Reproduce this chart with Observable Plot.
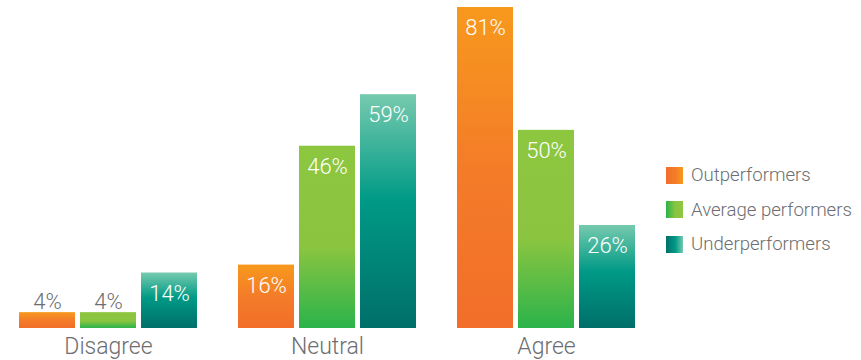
<!DOCTYPE html>
<html>
<head>
<meta charset="utf-8">
<script src="https://cdn.jsdelivr.net/npm/d3@7"></script>
<script src="https://cdn.jsdelivr.net/npm/@observablehq/plot@0.6"></script>
<style>
  html, body { margin: 0; padding: 0; background: #fff; }
  #wrap { position: relative; width: 861px; height: 360px; font-family: Roboto, "Liberation Sans", Arial, sans-serif; font-weight: 300; }
  #legend { position: absolute; left: 666px; top: 158px; }
  .item { display: flex; align-items: center; height: 34.5px; }
  .sw { width: 17px; height: 17px; margin-right: 8px; flex: none; }
  .lab { font-size: 18.6px; color: #6d6e71; font-weight: 300; white-space: nowrap; }
  svg text { font-weight: 300; }
</style>
</head>
<body>
<div id="wrap"></div>
<script>
const categories = ["Disagree", "Neutral", "Agree"];
const series = ["Outperformers", "Average performers", "Underperformers"];
const outperformers = [4, 16, 81];
const average = [4, 46, 50];
const underperformers = [14, 59, 26];
const valuesBySeries = [outperformers, average, underperformers];

const gradients = {
  "Outperformers": [["0%", "#f7991d"], ["50%", "#f47c28"], ["100%", "#f26e2a"]],
  "Average performers": [["0%", "#8dc63f"], ["55%", "#8bc540"], ["100%", "#2bb34b"]],
  "Underperformers": [["0%", "#76caae"], ["45%", "#009a86"], ["100%", "#006f69"]]
};
const gid = s => "g" + series.indexOf(s);

const data = [];
series.forEach((s, i) => categories.forEach((c, j) => data.push({category: c, series: s, value: valuesBySeries[i][j]})));

const inside = data.filter(d => d.value >= 10);
const outside = data.filter(d => d.value < 10);

const svg = Plot.plot({
  width: 861,
  height: 360,
  marginLeft: 18,
  marginRight: 226,
  marginTop: 7,
  marginBottom: 32,
  style: {fontFamily: "Roboto, Liberation Sans, Arial, sans-serif", background: "transparent"},
  fx: {domain: categories, paddingInner: 0.189, paddingOuter: 0, label: null},
  x: {domain: series, paddingInner: 0.082, paddingOuter: 0, axis: null},
  y: {domain: [0, d3.max(data, d => d.value)], axis: null},
  marks: [
    Plot.barY(data, {fx: "category", x: "series", y: "value", fill: d => `url(#${gid(d.series)})`}),
    Plot.text(inside, {fx: "category", x: "series", y: "value", text: d => d.value + "%", fill: "white", lineAnchor: "top", dy: 12, fontSize: 22}),
    Plot.text(outside, {fx: "category", x: "series", y: "value", text: d => d.value + "%", fill: "#6d6e71", lineAnchor: "bottom", dy: -4, fontSize: 22}),
    Plot.axisFx({anchor: "bottom", tickSize: 0, tickPadding: 9, fontSize: 23, color: "#6d6e71", label: null})
  ]
});

const ns = "http://www.w3.org/2000/svg";
const defs = document.createElementNS(ns, "defs");
function addGrad(id, stops) {
  const g = document.createElementNS(ns, "linearGradient");
  g.setAttribute("id", id);
  g.setAttribute("x1", "0"); g.setAttribute("y1", "0");
  g.setAttribute("x2", "0"); g.setAttribute("y2", "1");
  stops.forEach(([o, c]) => {
    const st = document.createElementNS(ns, "stop");
    st.setAttribute("offset", o); st.setAttribute("stop-color", c);
    g.appendChild(st);
  });
  defs.appendChild(g);
}
series.forEach(s => addGrad(gid(s), gradients[s]));
svg.insertBefore(defs, svg.firstChild);

const wrap = document.getElementById("wrap");
wrap.appendChild(svg);

const legend = document.createElement("div");
legend.id = "legend";
series.forEach(s => {
  const st = gradients[s];
  const item = document.createElement("div");
  item.className = "item";
  const sw = document.createElement("div");
  sw.className = "sw";
  sw.style.background = `linear-gradient(to right, ${st[2][1]}, ${st[1][1]} 55%, ${st[0][1]})`;
  const lab = document.createElement("span");
  lab.className = "lab";
  lab.textContent = s;
  item.appendChild(sw); item.appendChild(lab);
  legend.appendChild(item);
});
wrap.appendChild(legend);
</script>
</body>
</html>
